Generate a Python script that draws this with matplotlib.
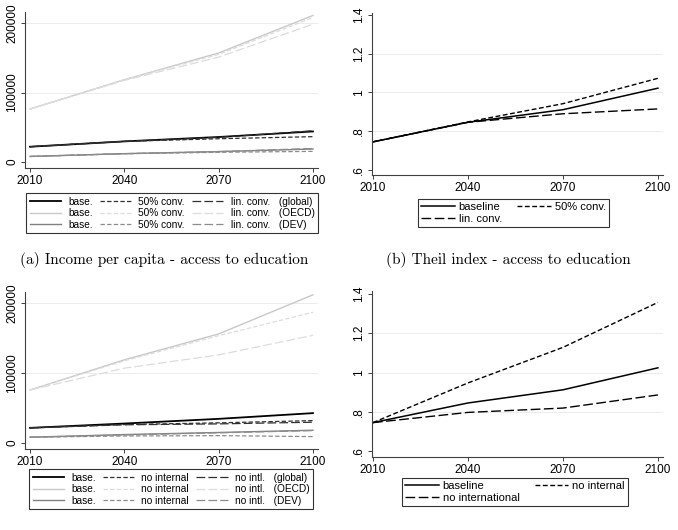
import matplotlib
matplotlib.use("Agg")
import matplotlib.pyplot as plt
from matplotlib.lines import Line2D

years = [2010, 2040, 2070, 2100]

# (a) income per capita - access to education
inc_a_base = {"global": [22000, 29700, 36000, 44000],
              "OECD": [76300, 118500, 157000, 211000],
              "DEV": [8000, 12000, 15000, 18700]}
inc_a_half = {"global": [22000, 29700, 33500, 36500],
              "OECD": [76300, 118500, 155000, 208000],
              "DEV": [8000, 12000, 14000, 15300]}
inc_a_lin = {"global": [22000, 29700, 35500, 45000],
             "OECD": [76300, 117500, 151000, 198500],
             "DEV": [8000, 12000, 15000, 19500]}

# (b) Theil index - access to education
theil_b_base = [0.745, 0.846, 0.911, 1.022]
theil_b_half = [0.745, 0.848, 0.942, 1.073]
theil_b_lin = [0.745, 0.846, 0.890, 0.915]

# (c) income per capita - migration
inc_c_base = {"global": [21600, 27800, 34500, 42700],
              "OECD": [75800, 119000, 156000, 212000],
              "DEV": [8200, 12000, 15000, 18200]}
inc_c_noint = {"global": [21600, 26400, 28800, 32000],
               "OECD": [75800, 117500, 153500, 187000],
               "DEV": [8200, 10000, 10500, 9100]}
inc_c_nointl = {"global": [21600, 26000, 27300, 29700],
                "OECD": [75800, 107000, 126000, 154000],
                "DEV": [8200, 11500, 14500, 17700]}

# (d) Theil index - migration
theil_d_base = [0.745, 0.845, 0.912, 1.024]
theil_d_noint = [0.745, 0.947, 1.128, 1.357]
theil_d_nointl = [0.745, 0.797, 0.819, 0.886]

regions = ["global", "OECD", "DEV"]
reg_col = {"global": "black", "OECD": "#c8c8c8", "DEV": "#808080"}
reg_col_dash = {"global": "#303030", "OECD": "#dcdcdc", "DEV": "#8c8c8c"}
reg_lw = {"global": 1.3, "OECD": 1.0, "DEV": 1.0}

short_dash = (0, (3.5, 1.8))
long_dash = (0, (7, 2.5))

plt.rcParams['font.family'] = ['Liberation Sans', 'DejaVu Sans']

W, H = 678, 530
fig = plt.figure(figsize=(W / 100, H / 100), dpi=100)


def px_axes(left, top, right, bottom):
    return fig.add_axes([left / W, 1 - bottom / H, (right - left) / W, (bottom - top) / H])


def style(ax, yticks, ylabels, xlim, ylim):
    ax.set_xlim(*xlim)
    ax.set_ylim(*ylim)
    ax.set_xticks(years)
    ax.set_xticklabels([str(y) for y in years], fontsize=8.5)
    ax.set_yticks(yticks)
    ax.set_yticklabels(ylabels, fontsize=8.5, rotation=90, va='center')
    for s in ['top', 'right']:
        ax.spines[s].set_visible(False)
    for s in ['left', 'bottom']:
        ax.spines[s].set_color('#404040')
        ax.spines[s].set_linewidth(0.8)
    ax.tick_params(length=3, width=0.7, color='#404040', pad=2)
    for yt in yticks[1:-1] if len(yticks) > 3 else yticks[1:]:
        ax.axhline(yt, color='#ececec', lw=0.7, zorder=0)


def finish_legend(leg):
    leg.get_frame().set_edgecolor('black')
    leg.get_frame().set_linewidth(0.8)


def income_panel(ax, base, alt1, alt2, lab1, lab2, leg_anchor):
    handles = []
    labels = []
    for series, ls, lab in [(base, '-', 'base.'), (alt1, short_dash, lab1), (alt2, long_dash, lab2)]:
        for r in regions:
            col = reg_col[r] if ls == '-' else reg_col_dash[r]
            ax.plot(years, series[r], color=col, lw=reg_lw[r] if ls == '-' else 0.9,
                    linestyle=ls, zorder=3 if r == 'global' else 2)
            handles.append(Line2D([], [], color=col, lw=reg_lw[r] if ls == '-' else 0.9, linestyle=ls))
            if ls == long_dash:
                labels.append(f"{lab}   ({r})")
            else:
                labels.append(lab)
    style(ax, [0, 100000, 200000], ['0', '100000', '200000'], (2008.4, 2101.6), (-8630, 216000))
    leg = fig.legend(handles, labels, ncol=3, loc='upper center',
                     bbox_to_anchor=leg_anchor, fontsize=7.3, frameon=True, fancybox=False,
                     handlelength=3.1, handletextpad=0.7, columnspacing=0.7,
                     borderpad=0.35, labelspacing=0.15, borderaxespad=0)
    finish_legend(leg)


def theil_panel(ax, s1, s2, s3, labels, leg_anchor, ylim):
    ax.plot(years, s1, color='black', lw=1.1, linestyle='-')
    ax.plot(years, s2, color='black', lw=1.0, linestyle=short_dash)
    ax.plot(years, s3, color='black', lw=1.0, linestyle=long_dash)
    style(ax, [0.6, 0.8, 1.0, 1.2, 1.4], ['.6', '.8', '1', '1.2', '1.4'], (2009.7, 2101.6), ylim)
    handles = [Line2D([], [], color='black', lw=1.1, linestyle='-'),
               Line2D([], [], color='black', lw=1.0, linestyle=short_dash),
               Line2D([], [], color='black', lw=1.0, linestyle=long_dash)]
    # column-wise fill: col 1 = baseline, third series; col 2 = second series
    leg = fig.legend([handles[0], handles[2], handles[1]], [labels[0], labels[2], labels[1]],
                     ncol=2, loc='upper left', bbox_to_anchor=leg_anchor,
                     fontsize=8, frameon=True, fancybox=False, handlelength=3.0,
                     handletextpad=0.35, columnspacing=1.4, borderpad=0.3,
                     labelspacing=0.12, borderaxespad=0)
    finish_legend(leg)


ax_a = px_axes(25, 12, 318, 168)
income_panel(ax_a, inc_a_base, inc_a_half, inc_a_lin, '50% conv.', 'lin. conv.',
             (172 / W, 1 - 193 / H))

ax_b = px_axes(372, 13, 663, 175)
theil_panel(ax_b, theil_b_base, theil_b_half, theil_b_lin,
            ['baseline', '50% conv.', 'lin. conv.'], (418 / W, 1 - 199 / H), (0.574, 1.41))

ax_c = px_axes(25, 292, 318, 449)
income_panel(ax_c, inc_c_base, inc_c_noint, inc_c_nointl, 'no internal', 'no intl.',
             (171 / W, 1 - 469 / H))

ax_d = px_axes(372, 291, 663, 457)
theil_panel(ax_d, theil_d_base, theil_d_noint, theil_d_nointl,
            ['baseline', 'no internal', 'no international'], (402 / W, 1 - 478 / H), (0.570, 1.415))

cap_font = dict(family=['cmr10', 'DejaVu Serif'], fontsize=11, ha='center', va='center')
fig.text(164 / W, 1 - 260 / H, '(a) Income per capita - access to education', **cap_font)
fig.text(508 / W, 1 - 260 / H, '(b) Theil index - access to education', **cap_font)

fig.savefig('out.png', dpi=100, facecolor='white')
